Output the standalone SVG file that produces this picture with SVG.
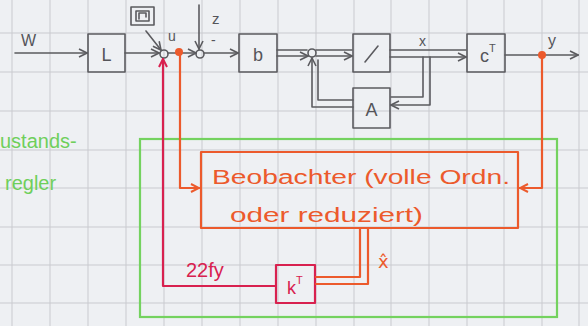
<svg xmlns="http://www.w3.org/2000/svg" width="588" height="326" viewBox="0 0 588 326">
<defs>
<style>
.g{fill:none;stroke:#5b5b5f;stroke-width:1.6;stroke-linecap:round;stroke-linejoin:round}
.o{fill:none;stroke:#ec5a2c;stroke-width:2.2;stroke-linecap:round;stroke-linejoin:round}
.r{fill:none;stroke:#d8214f;stroke-width:2.2;stroke-linecap:round;stroke-linejoin:round}
.gr{fill:none;stroke:#74d25f;stroke-width:2.2}
.grid{stroke:#c9cacf;stroke-width:1}
.tg{font-family:"Liberation Sans",Arial,sans-serif;fill:#55555a}
.to{font-family:"Liberation Sans",Arial,sans-serif;fill:#ec5a2c}
.tr{font-family:"Liberation Sans",Arial,sans-serif;fill:#d8214f}
.tgr{font-family:"Liberation Sans",Arial,sans-serif;fill:#6fcf5b}
</style>
<marker id="ag" viewBox="0 0 10 10" refX="9" refY="5" markerWidth="10" markerHeight="10" markerUnits="userSpaceOnUse" orient="auto"><path d="M1,1 L9,5 L1,9" fill="none" stroke="#5b5b5f" stroke-width="1.6"/></marker>
<marker id="ao" viewBox="0 0 10 10" refX="9" refY="5" markerWidth="10" markerHeight="10" markerUnits="userSpaceOnUse" orient="auto"><path d="M1,1 L9,5 L1,9" fill="none" stroke="#ec5a2c" stroke-width="2"/></marker>
<marker id="ar" viewBox="0 0 10 10" refX="9" refY="5" markerWidth="10" markerHeight="10" markerUnits="userSpaceOnUse" orient="auto"><path d="M1,1 L9,5 L1,9" fill="none" stroke="#d8214f" stroke-width="2"/></marker>
</defs>
<rect width="588" height="326" fill="#eef0f3"/>
<g id="grid" class="grid">
<line x1="12" y1="0" x2="12" y2="326"/><line x1="50" y1="0" x2="50" y2="326"/><line x1="88" y1="0" x2="88" y2="326"/><line x1="126" y1="0" x2="126" y2="326"/><line x1="164" y1="0" x2="164" y2="326"/><line x1="202" y1="0" x2="202" y2="326"/><line x1="240" y1="0" x2="240" y2="326"/><line x1="278" y1="0" x2="278" y2="326"/><line x1="316" y1="0" x2="316" y2="326"/><line x1="354" y1="0" x2="354" y2="326"/><line x1="391" y1="0" x2="391" y2="326"/><line x1="429" y1="0" x2="429" y2="326"/><line x1="467" y1="0" x2="467" y2="326"/><line x1="504" y1="0" x2="504" y2="326"/><line x1="542" y1="0" x2="542" y2="326"/><line x1="579" y1="0" x2="579" y2="326"/>
<line x1="0" y1="33" x2="588" y2="33"/><line x1="0" y1="72" x2="588" y2="72"/><line x1="0" y1="111" x2="588" y2="111"/><line x1="0" y1="150" x2="588" y2="150"/><line x1="0" y1="188" x2="588" y2="188"/><line x1="0" y1="227" x2="588" y2="227"/><line x1="0" y1="265" x2="588" y2="265"/><line x1="0" y1="303" x2="588" y2="303"/>
</g>
<g id="reglerrahmen">
<rect class="gr" x="140" y="139" width="417" height="178"/>
<text class="tgr" x="0" y="148" font-size="20">ustands-</text>
<text class="tgr" x="5" y="190" font-size="20">regler</text>
</g>
<g id="L"><rect class="g" x="88" y="34" width="37" height="38"/><text class="tg" x="106.5" y="61" font-size="18" text-anchor="middle">L</text></g>
<g id="stell"><rect class="g" x="131" y="7" width="23" height="18"/><rect class="g" x="136" y="11" width="13" height="10"/><path class="g" d="M139,19 L139,13 L146,13 L146,17"/></g>
<g id="sum1"><circle class="g" cx="164" cy="54" r="4"/><text class="tg" x="168" y="41" font-size="14">u</text></g>
<g id="sum2"><circle class="g" cx="200" cy="54" r="4"/><text class="tg" x="212" y="24" font-size="15">z</text><text class="tg" x="211" y="45" font-size="14">-</text></g>
<g id="b"><rect class="g" x="239" y="34" width="38" height="38"/><text class="tg" x="258" y="61" font-size="18" text-anchor="middle">b</text></g>
<g id="sum3"><circle class="g" cx="312" cy="53" r="4"/></g>
<g id="integrator"><rect class="g" x="353" y="34" width="37" height="38"/><line class="g" x1="365" y1="62" x2="378" y2="46"/></g>
<g id="A"><rect class="g" x="353" y="88" width="37" height="40"/><text class="tg" x="371.5" y="116" font-size="18" text-anchor="middle">A</text></g>
<g id="cT"><rect class="g" x="467" y="34" width="38" height="38"/><text class="tg" x="480" y="62" font-size="18">c<tspan font-size="11" dy="-10">T</tspan></text></g>
<g id="beobachter">
<rect class="o" x="201" y="152" width="317" height="76"/>
<text class="to" x="212" y="184" font-size="20" textLength="298" lengthAdjust="spacingAndGlyphs">Beobachter (volle Ordn.</text>
<text class="to" x="230" y="222" font-size="20" textLength="193" lengthAdjust="spacingAndGlyphs">oder reduziert)</text>
</g>
<g id="kT"><rect class="r" x="276" y="265" width="39" height="38"/><text class="tr" x="287" y="294" font-size="18">k<tspan font-size="11" dy="-10">T</tspan></text></g>
<g id="connectors">
<line class="g" x1="15" y1="53" x2="87" y2="53" marker-end="url(#ag)"/>
<text class="tg" x="21" y="46" font-size="16">W</text>
<line class="g" x1="125" y1="53" x2="159" y2="53" marker-end="url(#ag)"/>
<line class="g" x1="146" y1="31" x2="161" y2="50" marker-end="url(#ag)"/>
<line class="g" x1="168" y1="53" x2="196" y2="53" marker-end="url(#ag)"/>
<line class="g" x1="199" y1="5" x2="199" y2="49" marker-end="url(#ag)"/>
<line class="g" x1="204" y1="53" x2="238" y2="53" marker-end="url(#ag)"/>
<line class="g" x1="277" y1="50" x2="307" y2="50"/>
<line class="g" x1="277" y1="56" x2="308" y2="56" marker-end="url(#ag)"/>
<line class="g" x1="316" y1="50" x2="352" y2="50"/>
<line class="g" x1="316" y1="56" x2="352" y2="56" marker-end="url(#ag)"/>
<line class="g" x1="390" y1="50" x2="466" y2="50"/>
<line class="g" x1="390" y1="57" x2="466" y2="57" marker-end="url(#ag)"/>
<text class="tg" x="419" y="46" font-size="14">x</text>
<polyline class="g" points="423,57 423,97 391,97"/>
<polyline class="g" points="430,57 430,105 391,105" marker-end="url(#ag)"/>
<polyline class="g" points="353,100 318,100 318,60"/>
<polyline class="g" points="353,107 312,107 312,58" marker-end="url(#ag)"/>
<line class="g" x1="505" y1="55" x2="578" y2="55" marker-end="url(#ag)"/>
<text class="tg" x="548" y="46" font-size="16">y</text>
<circle cx="179" cy="52" r="4" fill="#ec5a2c"/>
<polyline class="o" points="180,53 180,188 199,188" marker-end="url(#ao)"/>
<circle cx="542" cy="55" r="4" fill="#ec5a2c"/>
<polyline class="o" points="542,55 542,188 520,188" marker-end="url(#ao)"/>
<polyline class="o" points="360,228 360,277 316,277"/>
<polyline class="o" points="368,228 368,284 316,284"/>
<text x="378" y="268" font-size="18" font-family="DejaVu Sans, sans-serif" fill="#ec5a2c">x̂</text>
<polyline class="r" points="276,286 163,286 163,59" marker-end="url(#ar)"/>
<text class="tr" x="186" y="277" font-size="20">22fy</text>
</g>
</svg>
